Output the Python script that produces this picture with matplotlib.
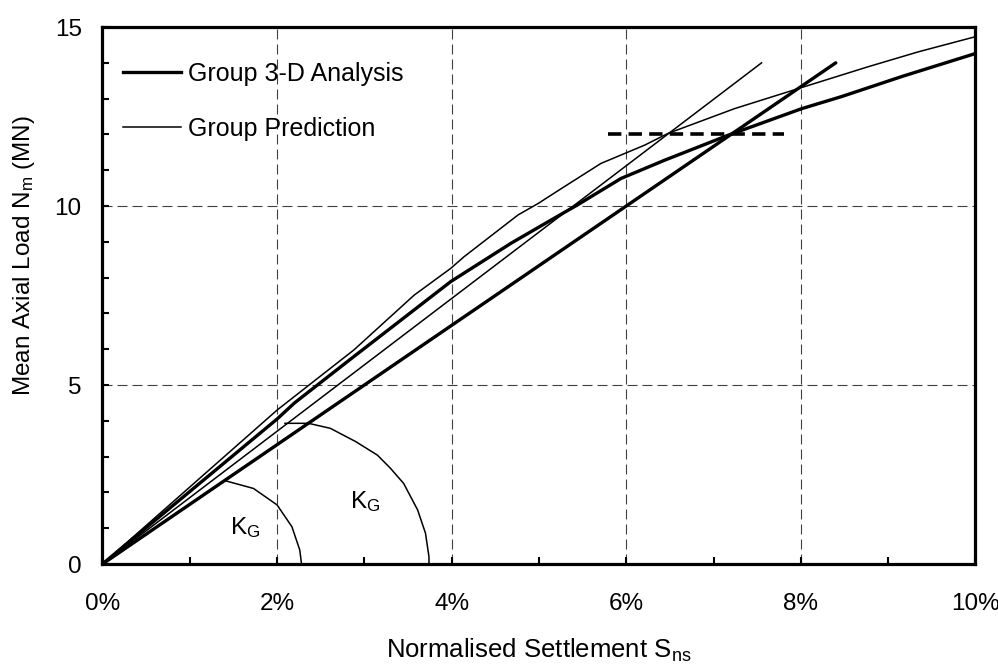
import matplotlib
matplotlib.use("Agg")
import matplotlib.pyplot as plt
from matplotlib.ticker import MultipleLocator, PercentFormatter

plt.rcParams['font.family'] = ['Liberation Sans', 'DejaVu Sans']
plt.rcParams['mathtext.default'] = 'regular'
plt.rcParams['font.size'] = 17.5

# Group 3-D analysis (thick curve), settlement in %, load in MN
analysis_s = [0, 2.0, 2.2, 2.84, 3.99, 4.68, 5.14, 5.44, 5.94, 6.44, 7.17, 8.01, 8.47, 9.16, 10.0]
analysis_n = [0, 4.05, 4.5, 5.72, 7.89, 8.96, 9.61, 10.03, 10.77, 11.28, 11.98, 12.72, 13.06, 13.62, 14.26]

# Group prediction (thin curve)
predict_s = [0, 2.0, 2.88, 3.57, 3.99, 4.14, 4.76, 4.99, 5.29, 5.71, 6.21, 6.48, 7.24, 7.97, 8.77, 9.35, 10.0]
predict_n = [0, 4.30, 5.98, 7.51, 8.26, 8.58, 9.75, 10.07, 10.54, 11.19, 11.70, 12.03, 12.72, 13.28, 13.89, 14.31, 14.73]

# initial stiffness lines K_G
kg_analysis_s = [0, 8.4]
kg_analysis_n = [0, 14.0]
kg_predict_s = [0, 7.55]
kg_predict_n = [0, 14.0]

# angle arcs
arc_small_s = [1.40, 1.73, 2.0, 2.17, 2.26, 2.28]
arc_small_n = [2.33, 2.11, 1.65, 1.04, 0.39, 0.0]
arc_big_s = [2.09, 2.36, 2.61, 2.90, 3.15, 3.30, 3.45, 3.61, 3.70, 3.74, 3.74]
arc_big_n = [3.93, 3.93, 3.79, 3.42, 3.04, 2.67, 2.25, 1.51, 0.86, 0.2, 0.0]

# horizontal dashed level
level_s = [5.79, 7.81]
level_n = [12.0, 12.0]

fig = plt.figure(figsize=(9.98, 6.64), dpi=100)
ax = fig.add_axes([0.1027, 0.1506, 0.8747, 0.8087])

ax.plot(analysis_s, analysis_n, color='black', lw=2.4, solid_joinstyle='round', label='Group 3-D Analysis', zorder=3)
ax.plot(predict_s, predict_n, color='black', lw=1.1, label='Group Prediction', zorder=3)
ax.plot(kg_analysis_s, kg_analysis_n, color='black', lw=2.4, solid_capstyle='round', zorder=3)
ax.plot(kg_predict_s, kg_predict_n, color='black', lw=1.1, zorder=3)
ax.plot(arc_small_s, arc_small_n, color='black', lw=1.1, zorder=3)
ax.plot(arc_big_s, arc_big_n, color='black', lw=1.1, zorder=3)
ax.plot(level_s, level_n, color='black', lw=2.6, ls=(0, (3.7, 2)), dash_capstyle='butt', zorder=3)

ax.text(1.46, 0.84, 'K$_{G}$', ha='left', va='baseline')
ax.text(2.84, 1.57, 'K$_{G}$', ha='left', va='baseline')

ax.set_xlim(0, 10)
ax.set_ylim(0, 15)
ax.xaxis.set_major_locator(MultipleLocator(2))
ax.xaxis.set_minor_locator(MultipleLocator(1))
ax.xaxis.set_major_formatter(PercentFormatter(xmax=100, decimals=0))
ax.yaxis.set_major_locator(MultipleLocator(5))
ax.yaxis.set_minor_locator(MultipleLocator(1))
ax.tick_params(which='both', direction='in', length=5, width=1.5)
ax.tick_params(axis='x', which='major', pad=21)
ax.tick_params(axis='y', which='major', pad=15)
ax.grid(True, which='major', color='#404040', lw=0.8, ls=(0, (9, 4.5)))
for sp in ax.spines.values():
    sp.set_linewidth(2.3)

ax.set_xlabel('Normalised Settlement S$_{ns}$', fontsize=18.5)
ax.xaxis.set_label_coords(0.5, -0.135)
ax.set_ylabel('Mean Axial Load N$_{m}$ (MN)')
ax.yaxis.set_label_coords(-0.075, 0.575)

ax.legend(loc='upper left', bbox_to_anchor=(0.024, 0.935), frameon=False, borderpad=0, fontsize=18,
          borderaxespad=0, handlelength=2.3, handletextpad=0.3, labelspacing=1.25)

fig.savefig('out.png', dpi=100)
